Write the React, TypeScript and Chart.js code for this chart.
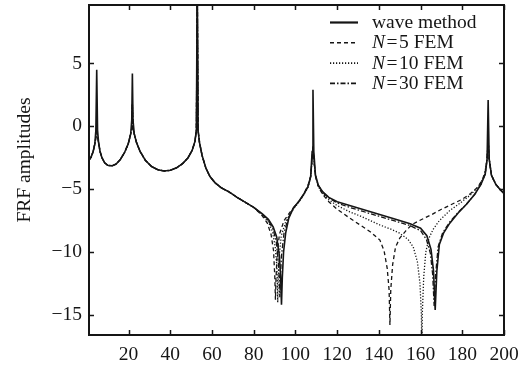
import React, { useEffect, useRef } from "react";
import { Chart, registerables } from "chart.js";

Chart.register(...registerables);

// ---- data ----
const xTickValues = [20, 40, 60, 80, 100, 120, 140, 160, 180, 200];
const yTickValues = [-15, -10, -5, 0, 5];
const seriesLabels = ["wave method", "N=5 FEM", "N=10 FEM", "N=30 FEM"];
const yAxisTitle = "FRF amplitudes";

// low-frequency band (first three resonances), shared x grid
const lowX = [1, 2, 3, 3.8, 4.3, 4.7, 5.1, 5.6, 6.3, 7.2, 8.5, 10, 12, 14, 16, 18, 19.8, 21, 21.5, 21.8, 22.1, 22.7, 23.8, 25.5, 28, 31, 34, 37, 40, 43, 46, 48.5, 50.5, 51.8, 52.5, 52.9, 53.3, 54, 55.2, 57, 59, 61.5, 64.5, 68, 72, 76, 80];
const waveLowY = [-2.7, -2.45, -2.0, -1.4, -0.3, 4.5, -0.3, -1.3, -2.0, -2.5, -2.9, -3.1, -3.15, -3.0, -2.65, -2.1, -1.4, -0.6, 0.5, 4.2, 0.5, -0.6, -1.3, -2.0, -2.7, -3.2, -3.45, -3.55, -3.5, -3.3, -2.95, -2.5, -1.9, -1.2, -0.3, 12, -0.3, -1.3, -2.3, -3.3, -4.0, -4.5, -4.9, -5.2, -5.65, -6.05, -6.45];
const femLowY = [-2.7, -2.45, -2.0, -1.4, -0.9, 0.1, -0.9, -1.3, -2.0, -2.5, -2.9, -3.1, -3.15, -3.0, -2.65, -2.1, -1.4, -0.6, -0.2, 1.8, -0.2, -0.6, -1.3, -2.0, -2.7, -3.2, -3.45, -3.55, -3.5, -3.3, -2.95, -2.5, -1.9, -1.2, -0.3, 12, -0.3, -1.3, -2.3, -3.3, -4.0, -4.5, -4.9, -5.2, -5.65, -6.05, -6.45];

// high-frequency band, per series
const waveHighX = [84, 87, 89.3, 91, 92.3, 92.9, 93.3, 93.7, 94.3, 95.3, 96.8, 99, 101.5, 104, 106, 107.3, 108, 108.4, 108.8, 109.6, 111, 113, 116, 120, 126, 132, 140, 148, 155, 160, 163, 165, 166.2, 167, 167.8, 169, 171, 174, 178, 182, 186, 189, 191, 191.9, 192.4, 192.9, 194, 196, 198, 200];
const waveHighY = [-6.95, -7.4, -8.0, -8.8, -10.3, -12, -14.2, -12, -10.0, -8.5, -7.3, -6.5, -6.0, -5.4, -4.8, -4.0, -2.0, 2.9, -2.0, -3.9, -4.7, -5.2, -5.65, -6.0, -6.3, -6.6, -7.0, -7.4, -7.75, -8.1, -8.7, -9.8, -11.5, -14.6, -11.5, -9.4, -8.5, -7.7, -6.9, -6.2, -5.4, -4.6, -3.8, -2.6, 2.1, -2.6, -3.9, -4.6, -5.0, -5.35];

const fem5HighX = [84, 86.5, 88.3, 89.5, 90.1, 90.4, 90.7, 91.2, 92.3, 94.5, 97.5, 100, 102.5, 104.5, 106.2, 107.4, 108, 108.4, 108.8, 109.6, 111, 113, 116, 120, 126, 131, 136, 140.5, 142.5, 144, 144.9, 145.3, 145.7, 146.6, 148, 150, 153, 156, 160, 165, 170, 175, 180, 184, 187, 189.5, 191.2, 191.9, 192.4, 192.9, 194, 196, 198, 200];
const fem5HighY = [-7.1, -7.7, -8.6, -9.9, -12, -13.8, -12, -10.2, -8.6, -7.5, -6.8, -6.3, -5.8, -5.2, -4.6, -3.9, -2.6, -1.6, -2.6, -4.0, -4.8, -5.4, -6.0, -6.6, -7.3, -7.85, -8.4, -9.05, -9.9, -11.3, -13, -15.8, -13, -11.0, -9.6, -8.9, -8.3, -7.8, -7.45, -7.05, -6.6, -6.2, -5.8, -5.35, -4.9, -4.3, -3.5, -2.6, -1.1, -2.6, -3.9, -4.6, -5.0, -5.35];

const fem10HighX = [84, 87, 89, 90.3, 91.0, 91.25, 91.5, 91.75, 92.1, 93.2, 95.5, 99, 101.5, 104, 106, 107.3, 108, 108.4, 108.8, 109.6, 111, 113, 116, 120, 126, 132, 140.5, 146, 150, 154, 156.5, 158.5, 159.7, 160.4, 160.6, 160.8, 161.5, 162.5, 164, 166, 169, 174, 179, 184, 188, 190.5, 191.9, 192.4, 192.9, 194, 196, 198, 200];
const fem10HighY = [-7.05, -7.6, -8.4, -9.6, -11, -12, -14.0, -12, -10.5, -8.7, -7.5, -6.6, -6.05, -5.45, -4.85, -4.05, -2.6, -1.6, -2.6, -3.95, -4.8, -5.35, -5.85, -6.3, -6.8, -7.2, -7.85, -8.2, -8.5, -9.0, -9.6, -10.8, -12.5, -15, -18, -15, -12, -10, -8.9, -8.2, -7.5, -6.7, -6.1, -5.45, -4.75, -4.0, -2.6, -1.1, -2.6, -3.9, -4.6, -5.0, -5.35];

const fem30HighX = [84, 87, 89.3, 90.8, 91.8, 92.2, 92.5, 92.8, 93.3, 94.5, 96.5, 99, 101.5, 104, 106, 107.3, 108, 108.4, 108.8, 109.6, 111, 113, 116, 120, 126, 132, 140, 148, 155, 160, 162.8, 164.7, 165.8, 166.5, 167.2, 168.4, 170.5, 174, 178, 182, 186, 189, 191, 191.9, 192.4, 192.9, 194, 196, 198, 200];
const fem30HighY = [-7.0, -7.5, -8.2, -9.2, -10.8, -12, -13.6, -12, -10.3, -8.5, -7.3, -6.5, -6.0, -5.4, -4.8, -4.0, -2.6, -1.6, -2.6, -3.9, -4.7, -5.25, -5.7, -6.1, -6.45, -6.75, -7.15, -7.55, -7.9, -8.3, -9.0, -10.1, -11.8, -14.3, -11.8, -9.6, -8.5, -7.6, -6.85, -6.2, -5.4, -4.6, -3.8, -2.6, -1.1, -2.6, -3.9, -4.6, -5.0, -5.35];

// ---- helpers ----
const FONT_FAMILY = '"Liberation Serif", "Times New Roman", serif';
const FONT_SIZE = 19.5;
const INK = "#151515";

function zip(xs: number[], ys: number[]) {
  return xs.map((x, i) => ({ x, y: ys[i] }));
}

const framePlugin = {
  id: "frameTicks",
  afterDatasetsDraw(chart: any) {
    const { ctx, chartArea: a, scales } = chart;
    ctx.save();
    ctx.strokeStyle = INK;
    ctx.lineWidth = 2;
    ctx.setLineDash([]);
    ctx.strokeRect(a.left, a.top, a.right - a.left, a.bottom - a.top);
    ctx.lineWidth = 1.5;
    ctx.beginPath();
    const len = 5;
    scales.x.ticks.forEach((t: any) => {
      const px = Math.round(scales.x.getPixelForValue(t.value)) + 0.5;
      ctx.moveTo(px, a.bottom);
      ctx.lineTo(px, a.bottom - len);
      ctx.moveTo(px, a.top);
      ctx.lineTo(px, a.top + len);
    });
    scales.y.ticks.forEach((t: any) => {
      const py = Math.round(scales.y.getPixelForValue(t.value)) + 0.5;
      ctx.moveTo(a.left, py);
      ctx.lineTo(a.left + len, py);
      ctx.moveTo(a.right, py);
      ctx.lineTo(a.right - len, py);
    });
    ctx.stroke();
    ctx.restore();
  },
};

const legendPlugin = {
  id: "texLegend",
  afterDraw(chart: any) {
    const { ctx, chartArea: a } = chart;
    ctx.save();
    const lineX0 = a.right - 174;
    const lineX1 = a.right - 146;
    const textX = a.right - 132;
    chart.data.datasets.forEach((ds: any, i: number) => {
      const base = a.top + 23 + i * 20.3;
      const ly = base - 5.5;
      ctx.beginPath();
      ctx.setLineDash(ds.borderDash || []);
      ctx.lineWidth = i === 0 ? 2.2 : 1.6;
      ctx.strokeStyle = INK;
      ctx.moveTo(lineX0, ly);
      ctx.lineTo(lineX1, ly);
      ctx.stroke();
      ctx.setLineDash([]);
      ctx.fillStyle = INK;
      ctx.textBaseline = "alphabetic";
      ctx.textAlign = "left";
      const label: string = ds.label;
      let x = textX;
      if (label.startsWith("N=")) {
        ctx.font = `italic ${FONT_SIZE}px ${FONT_FAMILY}`;
        ctx.fillText("N", x, base);
        x += ctx.measureText("N").width + 1.5;
        ctx.font = `${FONT_SIZE}px ${FONT_FAMILY}`;
        ctx.fillText("=", x, base);
        x += ctx.measureText("=").width + 1.5;
        ctx.fillText(label.slice(2), x, base);
      } else {
        ctx.font = `${FONT_SIZE}px ${FONT_FAMILY}`;
        ctx.fillText(label, x, base);
      }
    });
    ctx.restore();
  },
};

const titlePlugin = {
  id: "yTitle",
  afterDraw(chart: any) {
    const { ctx } = chart;
    ctx.save();
    ctx.translate(25, 160);
    ctx.rotate(-Math.PI / 2);
    ctx.font = `${FONT_SIZE}px ${FONT_FAMILY}`;
    ctx.fillStyle = INK;
    ctx.textAlign = "center";
    ctx.textBaseline = "middle";
    ctx.fillText(yAxisTitle, 0, 0);
    ctx.restore();
  },
};

const minusFmt = (v: any) => {
  const n = Number(v);
  return n < 0 ? "\u2212" + Math.abs(n) : String(n);
};

export default function App() {
  const ref = useRef<HTMLCanvasElement | null>(null);

  useEffect(() => {
    if (!ref.current) return;
    const common = { pointRadius: 0, borderColor: INK, tension: 0, fill: false };
    const chart = new Chart(ref.current, {
      type: "line",
      data: {
        datasets: [
          { ...common, label: seriesLabels[0], data: zip([...lowX, ...waveHighX], [...waveLowY, ...waveHighY]), borderWidth: 1.6 },
          { ...common, label: seriesLabels[1], data: zip([...lowX, ...fem5HighX], [...femLowY, ...fem5HighY]), borderWidth: 1.3, borderDash: [4, 3] },
          { ...common, label: seriesLabels[2], data: zip([...lowX, ...fem10HighX], [...femLowY, ...fem10HighY]), borderWidth: 1.3, borderDash: [1.2, 1.8] },
          { ...common, label: seriesLabels[3], data: zip([...lowX, ...fem30HighX], [...femLowY, ...fem30HighY]), borderWidth: 1.3, borderDash: [5, 2, 1.5, 2] },
        ],
      },
      options: {
        responsive: false,
        animation: false,
        devicePixelRatio: 1,
        layout: { padding: { left: 0, top: 5, right: 22, bottom: 0 } },
        plugins: { legend: { display: false }, tooltip: { enabled: false } },
        font: { family: FONT_FAMILY, size: FONT_SIZE },
        scales: {
          x: {
            type: "linear",
            min: 1,
            max: 200,
            grid: { display: false, drawTicks: false },
            border: { display: false },
            ticks: { color: INK, padding: 8, maxRotation: 0, autoSkip: false, font: { family: FONT_FAMILY, size: FONT_SIZE }, callback: minusFmt },
            afterBuildTicks: (s: any) => { s.ticks = xTickValues.map((v) => ({ value: v })); },
            afterFit: (s: any) => { s.height = 30; s.paddingLeft = 0; s.paddingRight = 0; },
          },
          y: {
            type: "linear",
            min: -16.6,
            max: 9.65,
            grid: { display: false, drawTicks: false },
            border: { display: false },
            ticks: { color: INK, padding: 7, autoSkip: false, font: { family: FONT_FAMILY, size: FONT_SIZE }, callback: minusFmt },
            afterBuildTicks: (s: any) => { s.ticks = yTickValues.map((v) => ({ value: v })); },
            afterFit: (s: any) => { s.width = 89; s.paddingTop = 0; s.paddingBottom = 0; },
          },
        },
      } as any,
      plugins: [framePlugin, legendPlugin, titlePlugin],
    });
    return () => chart.destroy();
  }, []);

  return (
    <div style={{ position: "fixed", left: 0, top: 0, width: 526, height: 365, background: "#fff" }}>
      <canvas ref={ref} width={526} height={365} style={{ display: "block" }} />
    </div>
  );
}
